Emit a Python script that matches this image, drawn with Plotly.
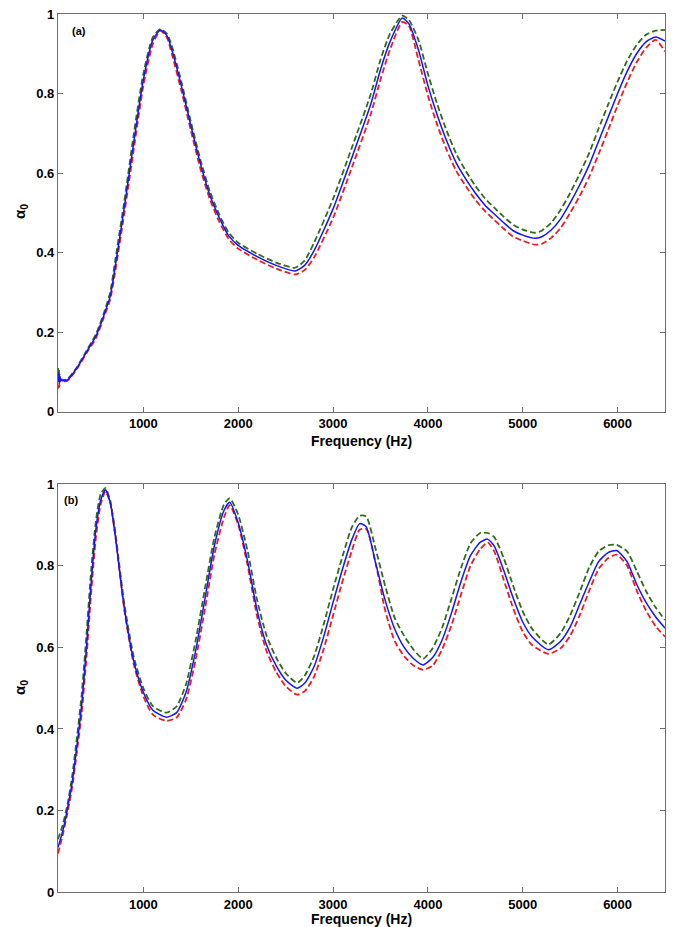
import plotly.graph_objects as go

# ---------------- Panel (a) data ----------------
freq_a = [100, 105, 110, 115, 120, 130, 150, 200, 300, 400, 500, 580, 650, 700, 800, 900,
          1000, 1100, 1180, 1250, 1300, 1400, 1500, 1600, 1700, 1800, 1900, 2000, 2200, 2400,
          2600, 2700, 2800, 3000, 3200, 3400, 3500, 3600, 3730, 3800, 3900, 4000, 4100, 4200,
          4300, 4400, 4500, 4600, 4700, 4800, 4900, 5000, 5130, 5200, 5300, 5400, 5500, 5600,
          5700, 5800, 5900, 6000, 6100, 6200, 6300, 6400, 6500]
blue_a = [0.100, 0.075, 0.095, 0.072, 0.088, 0.080, 0.078, 0.080, 0.110, 0.150, 0.190, 0.240, 0.290, 0.360, 0.515, 0.680,
          0.835, 0.935, 0.960, 0.945, 0.910, 0.820, 0.720, 0.625, 0.545, 0.488, 0.442, 0.418, 0.390, 0.368,
          0.354, 0.368, 0.405, 0.510, 0.640, 0.775, 0.860, 0.930, 0.990, 0.975, 0.910, 0.820, 0.745, 0.680,
          0.625, 0.585, 0.550, 0.520, 0.497, 0.475, 0.455, 0.444, 0.436, 0.440, 0.457, 0.485, 0.525, 0.570,
          0.620, 0.680, 0.740, 0.800, 0.855, 0.900, 0.930, 0.942, 0.932]
green_a = [0.110, 0.085, 0.105, 0.080, 0.092, 0.083, 0.080, 0.082, 0.112, 0.153, 0.195, 0.245, 0.300, 0.375, 0.530, 0.700,
           0.850, 0.942, 0.962, 0.950, 0.920, 0.830, 0.730, 0.635, 0.555, 0.496, 0.450, 0.425, 0.397, 0.375,
           0.362, 0.380, 0.425, 0.535, 0.665, 0.800, 0.885, 0.950, 0.996, 0.985, 0.935, 0.850, 0.772, 0.705,
           0.648, 0.605, 0.568, 0.537, 0.513, 0.490, 0.470, 0.458, 0.450, 0.455, 0.475, 0.508, 0.550, 0.598,
           0.650, 0.712, 0.772, 0.830, 0.882, 0.922, 0.948, 0.958, 0.960]
red_a = [0.090, 0.060, 0.085, 0.062, 0.082, 0.076, 0.076, 0.078, 0.108, 0.147, 0.185, 0.235, 0.282, 0.348, 0.500, 0.662,
         0.820, 0.925, 0.958, 0.940, 0.900, 0.808, 0.708, 0.612, 0.535, 0.478, 0.434, 0.410, 0.382, 0.360,
         0.345, 0.356, 0.388, 0.487, 0.615, 0.750, 0.835, 0.910, 0.980, 0.970, 0.885, 0.795, 0.720, 0.657,
         0.605, 0.567, 0.533, 0.505, 0.482, 0.460, 0.440, 0.430, 0.420, 0.422, 0.437, 0.462, 0.500, 0.542,
         0.590, 0.648, 0.708, 0.770, 0.828, 0.878, 0.915, 0.935, 0.906]

# ---------------- Panel (b) data ----------------
freq_b = [100, 150, 200, 250, 300, 350, 400, 450, 500, 550, 600, 650, 700, 750, 800, 900,
          1000, 1100, 1240, 1350, 1450, 1550, 1650, 1750, 1850, 1910, 2000, 2100, 2200, 2300,
          2400, 2500, 2620, 2700, 2800, 2900, 3000, 3100, 3200, 3280, 3350, 3450, 3550, 3650,
          3750, 3850, 3950, 4050, 4150, 4250, 4350, 4450, 4550, 4630, 4700, 4800, 4900, 5000,
          5100, 5270, 5400, 5500, 5600, 5700, 5800, 5900, 5990, 6100, 6200, 6300, 6400, 6500]
blue_b = [0.110, 0.150, 0.205, 0.270, 0.360, 0.460, 0.600, 0.760, 0.890, 0.960, 0.986, 0.955, 0.880, 0.785, 0.695, 0.565,
          0.490, 0.446, 0.429, 0.440, 0.490, 0.590, 0.720, 0.850, 0.935, 0.955, 0.905, 0.810, 0.690, 0.605,
          0.555, 0.520, 0.500, 0.512, 0.553, 0.625, 0.710, 0.792, 0.865, 0.903, 0.895, 0.805, 0.715, 0.645,
          0.600, 0.572, 0.557, 0.575, 0.618, 0.685, 0.762, 0.825, 0.857, 0.865, 0.848, 0.788, 0.720, 0.662,
          0.625, 0.594, 0.615, 0.650, 0.705, 0.760, 0.810, 0.832, 0.837, 0.810, 0.755, 0.710, 0.675, 0.647]
green_b = [0.130, 0.165, 0.215, 0.285, 0.380, 0.485, 0.630, 0.790, 0.910, 0.975, 0.990, 0.960, 0.890, 0.795, 0.705, 0.575,
           0.500, 0.456, 0.440, 0.455, 0.510, 0.615, 0.745, 0.870, 0.950, 0.965, 0.925, 0.835, 0.715, 0.628,
           0.575, 0.537, 0.513, 0.530, 0.578, 0.655, 0.742, 0.823, 0.895, 0.922, 0.920, 0.840, 0.750, 0.672,
           0.628, 0.594, 0.572, 0.598, 0.648, 0.720, 0.795, 0.855, 0.880, 0.880, 0.870, 0.818, 0.750, 0.688,
           0.645, 0.607, 0.635, 0.678, 0.735, 0.795, 0.835, 0.850, 0.851, 0.835, 0.788, 0.738, 0.698, 0.667]
red_b = [0.095, 0.140, 0.195, 0.258, 0.345, 0.440, 0.575, 0.735, 0.870, 0.950, 0.982, 0.955, 0.880, 0.785, 0.690, 0.557,
         0.480, 0.435, 0.420, 0.428, 0.472, 0.568, 0.695, 0.828, 0.918, 0.948, 0.900, 0.800, 0.675, 0.590,
         0.540, 0.505, 0.484, 0.492, 0.528, 0.595, 0.678, 0.762, 0.838, 0.888, 0.890, 0.805, 0.690, 0.615,
         0.578, 0.555, 0.545, 0.555, 0.595, 0.655, 0.730, 0.800, 0.840, 0.857, 0.835, 0.765, 0.695, 0.638,
         0.605, 0.584, 0.598, 0.628, 0.678, 0.738, 0.792, 0.818, 0.827, 0.800, 0.740, 0.690, 0.652, 0.626]

x_ticks = [1000, 2000, 3000, 4000, 5000, 6000]
y_ticks = [0, 0.2, 0.4, 0.6, 0.8, 1]
y_ticklabels = ["0", "0.2", "0.4", "0.6", "0.8", "1"]

W, H = 674, 927
FONT = "Liberation Sans, Arial, sans-serif"

fig = go.Figure()

def add_panel(freq, g, r, b, xa, ya):
    fig.add_trace(go.Scatter(x=freq, y=g, mode="lines", xaxis=xa, yaxis=ya,
                             line=dict(color="#2f6e14", width=1.8, dash="6px,3px", shape="spline", smoothing=0.6),
                             showlegend=False, hoverinfo="skip"))
    fig.add_trace(go.Scatter(x=freq, y=r, mode="lines", xaxis=xa, yaxis=ya,
                             line=dict(color="#ee1c1c", width=1.8, dash="6px,3px", shape="spline", smoothing=0.6),
                             showlegend=False, hoverinfo="skip"))
    fig.add_trace(go.Scatter(x=freq, y=b, mode="lines", xaxis=xa, yaxis=ya,
                             line=dict(color="#1414ff", width=1.5, shape="spline", smoothing=0.6),
                             showlegend=False, hoverinfo="skip"))

add_panel(freq_a, green_a, red_a, blue_a, "x", "y")
add_panel(freq_b, green_b, red_b, blue_b, "x2", "y2")

px_l, px_r = 58, 665
dom_x = [px_l / W, px_r / W]
dom_a = [1 - 411.7 / H, 1 - 14 / H]
dom_b = [1 - 892.3 / H, 1 - 484 / H]

axis_common = dict(showline=True, linecolor="#6e6e6e", linewidth=1.3, mirror="ticks",
                   ticks="inside", ticklen=5, tickcolor="#6e6e6e", tickwidth=1,
                   showgrid=False, zeroline=False, automargin=False,
                   tickfont=dict(family=FONT, size=13, color="black", weight="bold"))

xcfg = dict(axis_common, range=[100, 6500], tickvals=x_ticks,
            ticktext=[str(v) for v in x_ticks], domain=dom_x)
ycfg = dict(axis_common, range=[0, 1], tickvals=y_ticks, ticktext=y_ticklabels)

fig.update_layout(
    width=W, height=H,
    margin=dict(l=0, r=0, t=0, b=0),
    paper_bgcolor="white", plot_bgcolor="white",
    xaxis=dict(xcfg, anchor="y"),
    yaxis=dict(ycfg, domain=dom_a, anchor="x"),
    xaxis2=dict(xcfg, anchor="y2"),
    yaxis2=dict(ycfg, domain=dom_b, anchor="x2"),
    showlegend=False,
)

ann = []
for (ytitle_px, xtitle_px, lab, lab_x, lab_y) in [(212, 441, "(a)", 70, 31), (688, 919, "(b)", 62, 500)]:
    ann.append(dict(text="α<sub>0</sub>", x=20 / W, y=1 - ytitle_px / H, xref="paper", yref="paper",
                    showarrow=False, textangle=-90, xanchor="center", yanchor="middle",
                    font=dict(family=FONT, size=15, color="black", weight="bold")))
    ann.append(dict(text="Frequency (Hz)", x=(px_l + px_r) / 2 / W, y=1 - xtitle_px / H,
                    xref="paper", yref="paper", showarrow=False, xanchor="center", yanchor="middle",
                    font=dict(family=FONT, size=14, color="black", weight="bold")))
    ann.append(dict(text=lab, x=lab_x / W, y=1 - lab_y / H, xref="paper", yref="paper",
                    showarrow=False, xanchor="left", yanchor="middle",
                    font=dict(family=FONT, size=11, color="black", weight="bold")))
fig.update_layout(annotations=ann)

fig.write_html("out.html")
